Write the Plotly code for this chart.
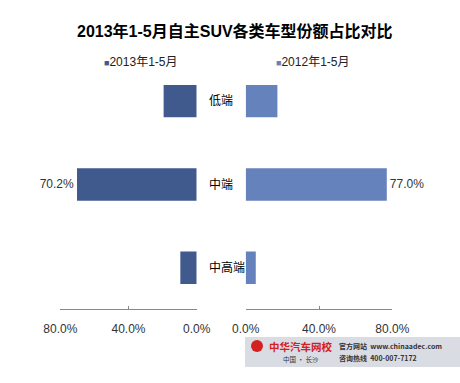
import plotly.graph_objects as go

categories = ["低端", "中端", "中高端"]
series_2013 = [19.4, 70.2, 9.6]
series_2012 = [17.3, 77.0, 5.5]
labels_2013 = ["", "70.2%", ""]
labels_2012 = ["", "77.0%", ""]
tick_vals = [0, 40, 80]
tick_text = ["0.0%", "40.0%", "80.0%"]
name_2013 = "2013年1-5月"
name_2012 = "2012年1-5月"
title_text = "2013年1-5月自主SUV各类车型份额占比对比"

C13 = "#405A8D"
C12 = "#6682BC"
FONT = "Liberation Sans, Noto Sans CJK SC, sans-serif"
W, H = 460, 383

def px(x):
    return x / W

def py(y):
    return 1 - y / H

fig = go.Figure()
fig.add_trace(go.Bar(
    x=series_2013, y=categories, orientation="h", name=name_2013,
    marker=dict(color=C13, line=dict(width=0)),
    text=labels_2013, textposition="outside", cliponaxis=False,
    textfont=dict(size=12, color="#333333", family=FONT),
    xaxis="x", yaxis="y", showlegend=False))
fig.add_trace(go.Bar(
    x=series_2012, y=categories, orientation="h", name=name_2012,
    marker=dict(color=C12, line=dict(width=0)),
    text=labels_2012, textposition="outside", cliponaxis=False,
    textfont=dict(size=12, color="#333333", family=FONT),
    xaxis="x2", yaxis="y", showlegend=False))

axis_common = dict(
    tickvals=tick_vals, ticktext=tick_text, showgrid=False, zeroline=False,
    showline=True, linecolor="#888888", linewidth=1,
    ticks="inside", ticklen=3, tickcolor="#888888",
    tickfont=dict(size=12, color="#333333", family=FONT),
    ticklabelstandoff=8, anchor="y", fixedrange=True, automargin=False)

fig.update_layout(
    width=W, height=H, autosize=False,
    margin=dict(l=0, r=0, t=0, b=0, pad=0),
    paper_bgcolor="white", plot_bgcolor="white",
    bargap=0.61,
    xaxis=dict(domain=[px(60.3), px(196.7)], range=[80, 0], **axis_common),
    xaxis2=dict(domain=[px(245.7), px(392.3)], range=[0, 80], **axis_common),
    yaxis=dict(domain=[py(309.3), py(59.5)], range=[2.5, -0.5],
               categoryorder="array", categoryarray=categories,
               showticklabels=False, showgrid=False, zeroline=False,
               showline=False, ticks="", fixedrange=True, automargin=False),
    font=dict(family=FONT),
)

annotations = []
annotations.append(dict(
    text="<b>" + title_text + "</b>", x=px(235), y=py(31), xref="paper", yref="paper",
    xanchor="center", yanchor="middle", showarrow=False,
    font=dict(size=16, color="#000000", family=FONT)))
annotations.append(dict(
    text="<span style='color:%s;font-size:9px'>■</span>%s" % (C13, name_2013),
    x=px(102), y=py(62), xref="paper", yref="paper", xanchor="left", yanchor="middle",
    showarrow=False, font=dict(size=12, color="#222222", family=FONT)))
annotations.append(dict(
    text="<span style='color:%s;font-size:9px'>■</span>%s" % (C12, name_2012),
    x=px(274), y=py(62), xref="paper", yref="paper", xanchor="left", yanchor="middle",
    showarrow=False, font=dict(size=12, color="#222222", family=FONT)))
for c in categories:
    annotations.append(dict(
        text=c, x=px(207), y=c, xref="paper", yref="y", xanchor="left", yanchor="middle",
        showarrow=False, font=dict(size=12, color="#000000", family=FONT)))

# watermark logo block
annotations.append(dict(
    text="<b>中华汽车网校</b>", x=px(267), y=py(346), xref="paper", yref="paper",
    xanchor="left", yanchor="middle", showarrow=False,
    font=dict(size=10.5, color="#D42020", family="Noto Sans CJK SC")))
annotations.append(dict(
    text="中国 · 长沙", x=px(281), y=py(359), xref="paper", yref="paper",
    xanchor="left", yanchor="middle", showarrow=False,
    font=dict(size=6.5, color="#333333", family="Noto Sans CJK SC")))
annotations.append(dict(
    text="<b>官方网站  www.chinaadec.com</b>", x=px(337), y=py(346), xref="paper", yref="paper",
    xanchor="left", yanchor="middle", showarrow=False,
    font=dict(size=7, color="#333333", family="Noto Sans CJK SC")))
annotations.append(dict(
    text="<b>咨询热线  400-007-7172</b>", x=px(337), y=py(358), xref="paper", yref="paper",
    xanchor="left", yanchor="middle", showarrow=False,
    font=dict(size=7, color="#333333", family="Noto Sans CJK SC")))

shapes = [
    dict(type="rect", xref="paper", yref="paper", x0=px(245), x1=px(460),
         y0=py(367), y1=py(337), fillcolor="#DADCE3", line=dict(width=0), layer="below"),
    dict(type="circle", xref="paper", yref="paper", x0=px(251), x1=px(263),
         y0=py(352), y1=py(340), fillcolor="#D42020", line=dict(width=0)),
]
fig.update_layout(annotations=annotations, shapes=shapes)

fig.write_html("out.html", config={"displayModeBar": False, "responsive": False},
               post_script="document.body.style.margin='0';document.body.style.overflow='hidden';")
